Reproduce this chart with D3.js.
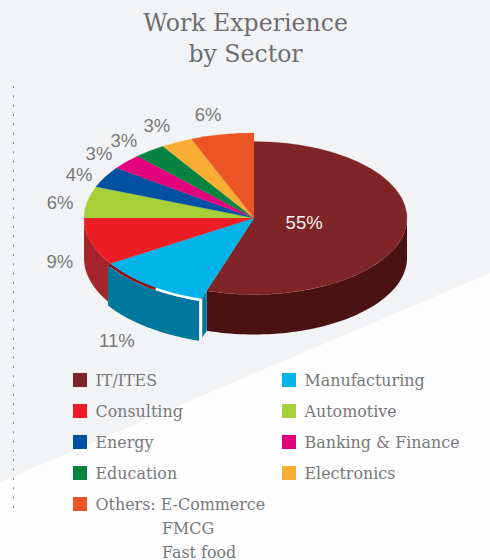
<!DOCTYPE html>
<html>
<head>
<meta charset="utf-8">
<style>
  html, body { margin: 0; padding: 0; background: #fdfdfd; }
  svg { display: block; }
  .title { font-family: "DejaVu Serif", serif; font-size: 23.6px; fill: #6d6e71; text-anchor: middle; }
  .legend { font-family: "DejaVu Serif", serif; font-size: 15.9px; fill: #77787b; }
  .pct { font-family: "Liberation Sans", sans-serif; font-size: 18.5px; fill: #77787b; text-anchor: middle; }
</style>
</head>
<body>
<div id="chart"></div>
<script src="https://d3js.org/d3.v7.min.js"></script>
<script>
// ── Data ──
const categories = ['IT/ITES', 'Manufacturing', 'Consulting', 'Automotive', 'Energy',
  'Banking & Finance', 'Education', 'Electronics', 'Others: E-Commerce'];
const shares = [55, 11, 9, 6, 4, 3, 3, 3, 6];
const colors = ['#7f2427', '#00b4e9', '#ee1c25', '#a7cf38', '#0051a2',
  '#e2007d', '#05843f', '#f8ae32', '#ea5426'];
const othersLines = ['FMCG', 'Fast food'];
const titleLines = ['Work Experience', 'by Sector'];

// ── Layout ──
const width = 490, height = 560;
const cx = 254, cy = 218;
const squash = 0.5, depth = 40;
const radiusIT = 153, radiusRest = 170;
const wallIT = '#4b1214', wallConsulting = '#a6252d', wallManufacturing = '#00789e';

const svg = d3.select('#chart').append('svg').attr('width', width).attr('height', height);

// ── Background ──
svg.append('rect').attr('width', width).attr('height', height).attr('fill', '#fdfdfd');
svg.append('path').attr('d', 'M0,0H490V273L0,482Z').attr('fill', '#f2f3f5');
svg.append('line')
  .attr('x1', 13.5).attr('x2', 13.5).attr('y1', 86).attr('y2', 509)
  .attr('stroke', '#8a8b8e').attr('stroke-width', 1)
  .attr('stroke-dasharray', '2 7.33');

// ── Title ──
svg.selectAll('.title').data(titleLines).join('text')
  .attr('class', 'title')
  .attr('x', 245.5)
  .attr('y', function(d, i) { return 31 + i * 31; })
  .text(function(d) { return d; });

// ── Pie geometry ──
const slices = d3.pie().sort(null).value(function(d) { return d; })(shares);

function radiusOf(i) { return i === 0 ? radiusIT : radiusRest; }

// point on the squashed rim, angle clockwise from 12 o'clock
function rim(a, r, dx, dy) {
  return [cx + (dx || 0) + r * Math.sin(a), cy + (dy || 0) - r * Math.cos(a) * squash];
}

const line = d3.line();

function arcPoints(a0, a1, r, dx, dy) {
  return d3.range(0, 61).map(function(k) {
    return rim(a0 + (a1 - a0) * k / 60, r, dx, dy);
  });
}

// side wall between two angles
function wallPath(a0, a1, r, dx, dy) {
  const top = arcPoints(a0, a1, r, dx, dy);
  const bottom = arcPoints(a1, a0, r, dx, (dy || 0) + depth);
  return line(top.concat(bottom)) + 'Z';
}

const pies = svg.append('g');

// ── Walls ──
const it = slices[0], mfg = slices[1], cons = slices[2];

pies.append('path')
  .attr('d', wallPath(cons.startAngle, cons.endAngle, radiusRest))
  .attr('fill', wallConsulting);
pies.append('path')
  .attr('d', wallPath(Math.PI / 2, it.endAngle, radiusIT))
  .attr('fill', wallIT);

// cut face of the pulled out manufacturing block
const cutOuter = rim(mfg.startAngle, radiusRest), cutInner = rim(mfg.startAngle, radiusIT);
pies.append('path')
  .attr('d', line([cutOuter, cutInner, [cutInner[0], cutInner[1] + depth], [cutOuter[0], cutOuter[1] + depth]]) + 'Z')
  .attr('fill', wallManufacturing);

const shiftX = -2.4, shiftY = 2;
pies.append('path')
  .attr('d', wallPath(mfg.startAngle, mfg.endAngle, radiusRest, shiftX, shiftY))
  .attr('fill', wallManufacturing);

// white seam and dark red sliver between block and top
const seamSplit = mfg.startAngle + (mfg.endAngle - mfg.startAngle) * 0.43;
pies.append('path')
  .attr('d', line(arcPoints(mfg.startAngle, seamSplit, radiusRest, -0.8, 1)))
  .attr('fill', 'none').attr('stroke', '#fff').attr('stroke-width', 2.6);
pies.append('path')
  .attr('d', line(arcPoints(seamSplit, mfg.endAngle, radiusRest, -0.8, 1)))
  .attr('fill', 'none').attr('stroke', '#8c0f14').attr('stroke-width', 3);
pies.append('line')
  .attr('x1', cutOuter[0] - 0.4).attr('x2', cutOuter[0] - 0.4)
  .attr('y1', cutOuter[1]).attr('y2', cutOuter[1] + depth + 1)
  .attr('stroke', '#fff').attr('stroke-width', 2.4);

// ── Top faces ──
const arc = d3.arc().innerRadius(0);
pies.append('g')
  .attr('transform', 'translate(' + cx + ',' + cy + ') scale(1,' + squash + ')')
  .selectAll('path').data(slices).join('path')
  .attr('d', function(d, i) { return arc.outerRadius(radiusOf(i))(d); })
  .attr('fill', function(d, i) { return colors[i]; })
  .attr('stroke', function(d, i) { return colors[i]; })
  .attr('stroke-width', 0.3);

// ── Percent labels ── nudges are relative to the slice rim midpoint
const labelNudge = [[-101, -7], [-33, 55], [-31, 20], [-27, 0], [-26, -3],
  [-27.5, -8], [-26, -10], [-20, -17], [-14, -20.5]];

svg.selectAll('.pct').data(slices).join('text')
  .attr('class', 'pct')
  .attr('x', function(d, i) {
    const mid = (d.startAngle + d.endAngle) / 2;
    return rim(mid, radiusOf(i))[0] + labelNudge[i][0];
  })
  .attr('y', function(d, i) {
    const mid = (d.startAngle + d.endAngle) / 2;
    return rim(mid, radiusOf(i))[1] + labelNudge[i][1] + 6.5;
  })
  .style('fill', function(d, i) { return i === 0 ? '#f4f1f1' : null; })
  .text(function(d) { return d.value + '%'; });

// ── Legend ──
const legendX = [73, 282], rowY = d3.scaleLinear().domain([0, 1]).range([373, 404]);
const legend = svg.selectAll('.legend-item').data(categories).join('g')
  .attr('class', 'legend-item')
  .attr('transform', function(d, i) {
    return 'translate(' + legendX[i % 2] + ',' + rowY(Math.floor(i / 2)) + ')';
  });
legend.append('rect').attr('width', 14).attr('height', 14)
  .attr('fill', function(d, i) { return colors[i]; });
legend.append('text').attr('class', 'legend')
  .attr('x', 22.5).attr('y', 12.5)
  .text(function(d) { return d; });

legend.filter(function(d, i) { return i === categories.length - 1; })
  .selectAll('.sub').data(othersLines).join('text')
  .attr('class', 'legend sub')
  .attr('x', 89)
  .attr('y', function(d, i) { return 36.5 + i * 24; })
  .text(function(d) { return d; });
</script>
</body>
</html>
